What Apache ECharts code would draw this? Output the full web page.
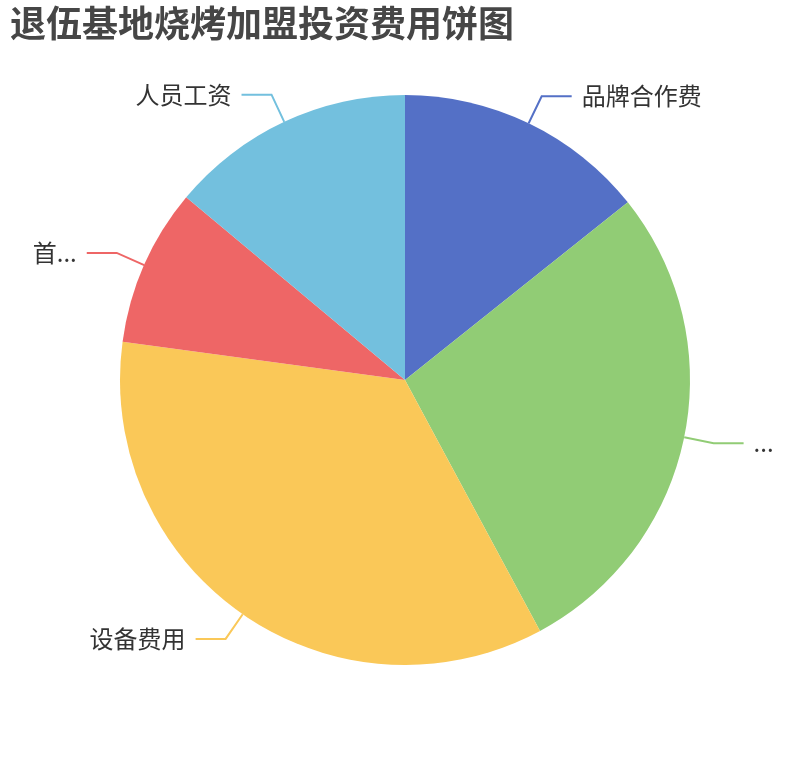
<!DOCTYPE html>
<html>
<head>
<meta charset="utf-8">
<style>html,body{margin:0;padding:0;background:#fff;}#main{width:810px;height:760px;}</style>
<script src="https://cdn.jsdelivr.net/npm/echarts@6/dist/echarts.min.js"></script>
</head>
<body>
<div id="main"></div>
<script>
var titleText = '退伍基地烧烤加盟投资费用饼图';
var categories = ['品牌合作费', '店铺装修费用', '设备费用', '首批进货费用', '人员工资'];
var values = [2, 3.9, 4.9, 1.25, 1.95];

var chart = echarts.init(document.getElementById('main'));
chart.setOption({
  title: {
    text: titleText,
    left: 5,
    top: 0,
    textStyle: { fontSize: 36, fontWeight: 'bold', color: '#464646', fontFamily: 'Noto Sans CJK SC' }
  },
  color: ['#5470c6', '#91cc75', '#fac858', '#ee6666', '#73c0de'],
  series: [{
    type: 'pie',
    radius: '75%',
    center: ['50%', '50%'],
    startAngle: 90,
    data: categories.map(function (c, i) { return { name: c, value: values[i] }; }),
    label: { fontSize: 24, fontFamily: 'Noto Sans CJK SC', color: '#333', distanceToLabelLine: 10, bleedMargin: 16 },
    labelLine: { length: 30, length2: 30, lineStyle: { width: 2 } }
  }]
});
</script>
</body>
</html>
